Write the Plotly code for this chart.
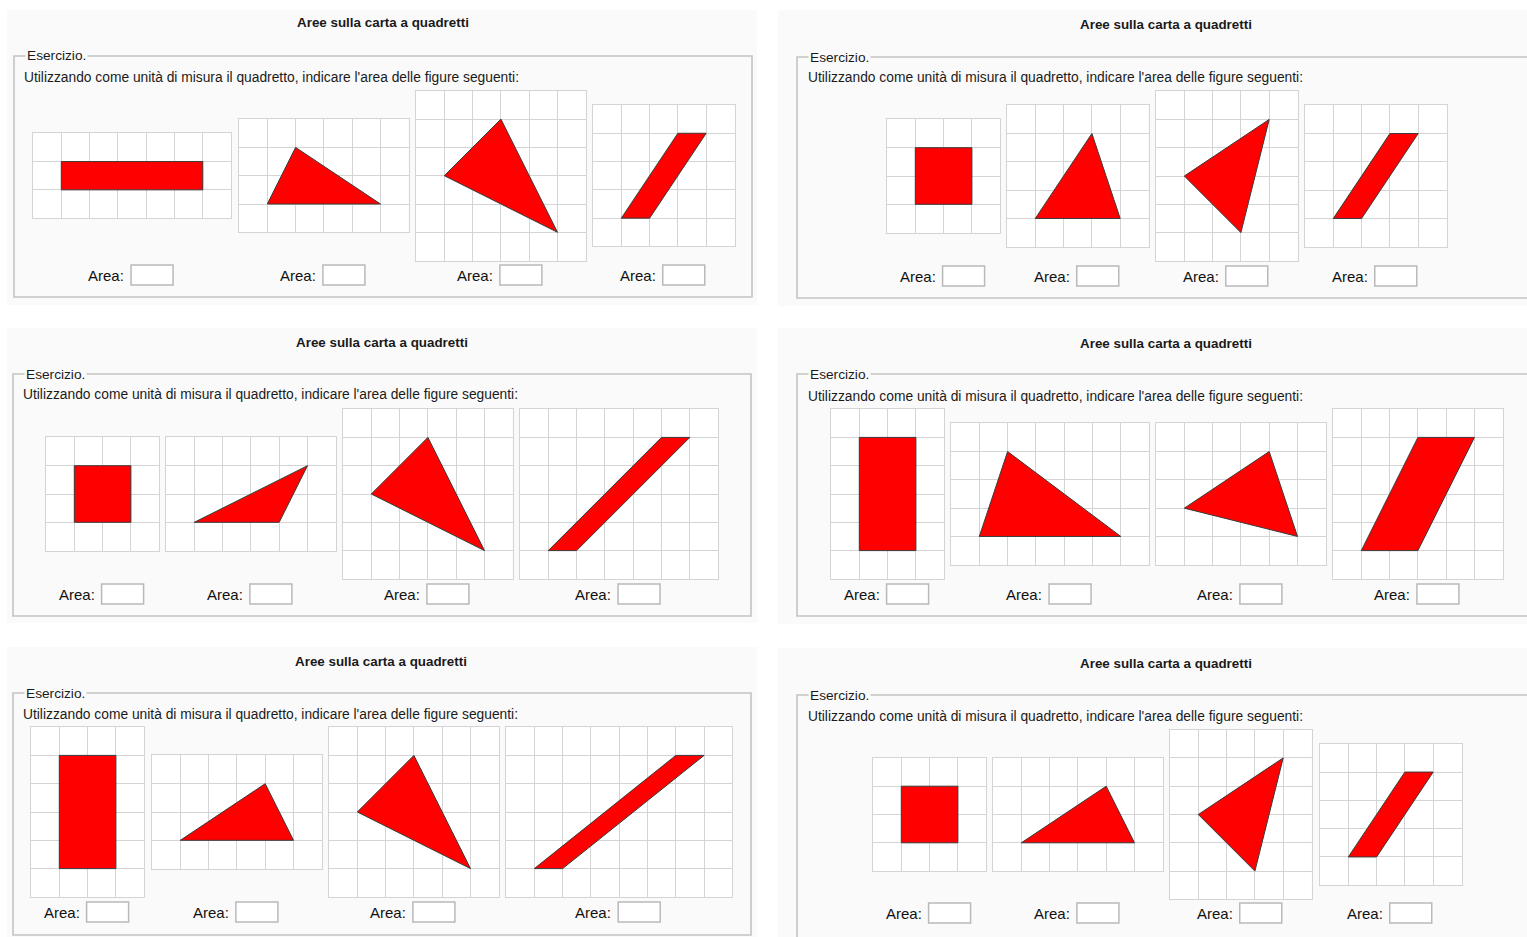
import plotly.graph_objects as go

# ---------------- data (grid units; rows counted from the top) ----------------
TITLE = "Aree sulla carta a quadretti"
LEGEND_TEXT = "Esercizio."
INSTRUCTION = "Utilizzando come unità di misura il quadretto, indicare l'area delle figure seguenti:"
AREA_LABEL = "Area:"

p1_cols = [7, 6, 6, 5]
p1_rows = [3, 4, 6, 5]
p1_vx = [[1, 6, 6, 1], [1, 2, 5], [1, 3, 5], [1, 2, 4, 3]]
p1_vy = [[1, 1, 2, 2], [3, 1, 3], [3, 1, 5], [4, 4, 1, 1]]

p2_cols = [4, 5, 5, 5]
p2_rows = [4, 5, 6, 5]
p2_vx = [[1, 3, 3, 1], [1, 3, 4], [4, 1, 3], [1, 2, 4, 3]]
p2_vy = [[1, 1, 3, 3], [4, 1, 4], [1, 3, 5], [4, 4, 1, 1]]

p3_cols = [4, 6, 6, 7]
p3_rows = [4, 4, 6, 6]
p3_vx = [[1, 3, 3, 1], [1, 4, 5], [1, 3, 5], [1, 2, 6, 5]]
p3_vy = [[1, 1, 3, 3], [3, 3, 1], [3, 1, 5], [5, 5, 1, 1]]

p4_cols = [4, 7, 6, 6]
p4_rows = [6, 5, 5, 6]
p4_vx = [[1, 3, 3, 1], [1, 2, 6], [1, 4, 5], [1, 3, 5, 3]]
p4_vy = [[1, 1, 5, 5], [4, 1, 4], [3, 1, 4], [5, 5, 1, 1]]

p5_cols = [4, 6, 6, 8]
p5_rows = [6, 4, 6, 6]
p5_vx = [[1, 3, 3, 1], [1, 4, 5], [1, 3, 5], [1, 2, 7, 6]]
p5_vy = [[1, 1, 5, 5], [3, 1, 3], [3, 1, 5], [5, 5, 1, 1]]

p6_cols = [4, 6, 5, 5]
p6_rows = [4, 4, 6, 5]
p6_vx = [[1, 3, 3, 1], [1, 4, 5], [4, 1, 3], [1, 2, 4, 3]]
p6_vy = [[1, 1, 3, 3], [3, 1, 3], [1, 3, 5], [4, 4, 1, 1]]

panels_cols = [p1_cols, p2_cols, p3_cols, p4_cols, p5_cols, p6_cols]
panels_rows = [p1_rows, p2_rows, p3_rows, p4_rows, p5_rows, p6_rows]
panels_vx = [p1_vx, p2_vx, p3_vx, p4_vx, p5_vx, p6_vx]
panels_vy = [p1_vy, p2_vy, p3_vy, p4_vy, p5_vy, p6_vy]

# ---------------- layout (pixel positions of page elements) ----------------
W, H = 1527, 937
CELL = 28.3
FONT = "Liberation Sans, Arial, sans-serif"

PANEL_POS = [
    dict(bg=(7, 10, 757, 305), box=(14, 56, 752, 297), title=(383, 23), legend=(25, 56),
         instr=(22, 77), lefts=[33, 239, 416, 593], cy=175.7, area_y=275),
    dict(bg=(778, 10, 1530, 306), box=(797, 57, 1532, 298), title=(1166, 24), legend=(808, 57),
         instr=(806, 78), lefts=[887, 1007, 1156, 1305], cy=176, area_y=276),
    dict(bg=(7, 328, 757, 623), box=(13, 374, 751, 616), title=(382, 342), legend=(24, 374),
         instr=(21, 395), lefts=[46, 166, 343, 520], cy=494, area_y=594),
    dict(bg=(778, 328, 1530, 624), box=(797, 374, 1532, 616), title=(1166, 343), legend=(808, 374),
         instr=(806, 396), lefts=[831, 951, 1156, 1333], cy=494, area_y=594),
    dict(bg=(7, 647, 757, 940), box=(13, 693, 751, 935), title=(381, 661), legend=(24, 693),
         instr=(21, 714), lefts=[31, 152, 329, 506], cy=812, area_y=912),
    dict(bg=(778, 648, 1530, 940), box=(797, 695, 1532, 940), title=(1166, 663), legend=(808, 695),
         instr=(806, 716), lefts=[873, 993, 1170, 1320], cy=814.5, area_y=913),
]


def px(x):
    return x / W


def py(y):
    return 1 - y / H


fig = go.Figure()
shapes = []
annotations = []
layout_axes = {}

# panel backgrounds and fieldset boxes
for pos in PANEL_POS:
    x0, y0, x1, y1 = pos["bg"]
    shapes.append(dict(type="rect", xref="paper", yref="paper", x0=px(x0), x1=px(x1),
                       y0=py(y1), y1=py(y0), fillcolor="#fafafa", line=dict(width=0), layer="below"))
    x0, y0, x1, y1 = pos["box"]
    shapes.append(dict(type="rect", xref="paper", yref="paper", x0=px(x0), x1=px(x1),
                       y0=py(y1), y1=py(y0), fillcolor="rgba(0,0,0,0)",
                       line=dict(color="#c4c4c4", width=1.6), layer="below"))
    tx, ty = pos["title"]
    annotations.append(dict(text="<b>" + TITLE + "</b>", x=px(tx), y=py(ty), xref="paper", yref="paper",
                            xanchor="center", yanchor="middle", showarrow=False,
                            font=dict(family=FONT, size=13.4, color="#1a1a1a")))
    lx, ly = pos["legend"]
    annotations.append(dict(text=LEGEND_TEXT, x=px(lx), y=py(ly), xref="paper", yref="paper",
                            xanchor="left", yanchor="middle", showarrow=False, bgcolor="#fafafa",
                            borderpad=1, font=dict(family=FONT, size=13.7, color="#1a1a1a")))
    ix, iy = pos["instr"]
    annotations.append(dict(text=INSTRUCTION, x=px(ix), y=py(iy), xref="paper", yref="paper",
                            xanchor="left", yanchor="middle", showarrow=False,
                            font=dict(family=FONT, size=13.8, color="#1a1a1a")))

# grids with shapes
k = 0
for p, pos in enumerate(PANEL_POS):
    for g in range(4):
        k += 1
        cols = panels_cols[p][g]
        rows = panels_rows[p][g]
        left = pos["lefts"][g]
        right = left + cols * CELL
        top = pos["cy"] - rows * CELL / 2
        bottom = pos["cy"] + rows * CELL / 2
        xa = "x" if k == 1 else f"x{k}"
        ya = "y" if k == 1 else f"y{k}"
        xname = "xaxis" if k == 1 else f"xaxis{k}"
        yname = "yaxis" if k == 1 else f"yaxis{k}"
        common = dict(showgrid=True, gridcolor="#d4d4d4", gridwidth=1, dtick=1, tick0=0,
                      showticklabels=False, ticks="", zeroline=False, showline=True,
                      linecolor="#d4d4d4", linewidth=1, mirror=True, fixedrange=True)
        layout_axes[xname] = dict(domain=[px(left), px(right)], range=[0, cols], anchor=ya, **common)
        layout_axes[yname] = dict(domain=[py(bottom), py(top)], range=[rows, 0], anchor=xa, **common)
        # white paper of the grid
        shapes.append(dict(type="rect", xref=f"{xa} domain", yref=f"{ya} domain", x0=0, x1=1,
                           y0=0, y1=1, fillcolor="#ffffff", line=dict(width=0), layer="below"))
        vx = panels_vx[p][g]
        vy = panels_vy[p][g]
        fig.add_trace(go.Scatter(x=vx + vx[:1], y=vy + vy[:1], xaxis=xa, yaxis=ya, mode="lines",
                                 fill="toself", fillcolor="#ff0000",
                                 line=dict(color="#3a3a3a", width=1), hoverinfo="skip",
                                 showlegend=False))
        # area label + input box centred under the grid
        cx = (left + right) / 2
        ay = pos["area_y"]
        annotations.append(dict(text=AREA_LABEL, x=px(cx - 6), y=py(ay), xref="paper", yref="paper",
                                xanchor="right", yanchor="middle", showarrow=False,
                                font=dict(family=FONT, size=15, color="#111111")))
        shapes.append(dict(type="rect", xref="paper", yref="paper", x0=px(cx - 1), x1=px(cx + 41),
                           y0=py(ay + 10), y1=py(ay - 10), fillcolor="#ffffff",
                           line=dict(color="#b9b9b9", width=1.5), layer="above"))

fig.update_layout(
    width=W, height=H, autosize=False,
    margin=dict(l=0, r=0, t=0, b=0, pad=0),
    paper_bgcolor="#ffffff", plot_bgcolor="#ffffff",
    shapes=shapes, annotations=annotations, showlegend=False,
    **layout_axes,
)

fig.write_html(
    "out.html",
    config={"displayModeBar": False},
    post_script="document.body.style.margin='0';document.body.style.overflow='hidden';",
)
